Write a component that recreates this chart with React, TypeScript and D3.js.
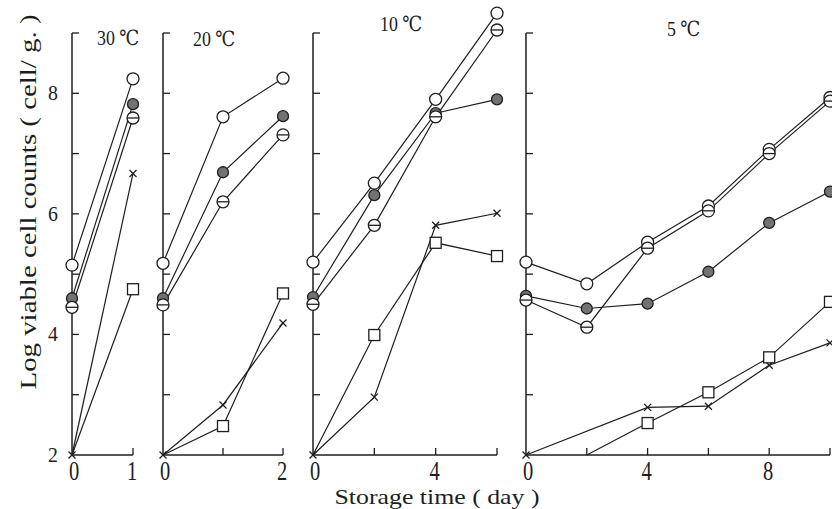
import React from 'react';
import * as d3 from 'd3';

// ---- data ----
const temps = ['30 ℃', '20 ℃', '10 ℃', '5 ℃'];
const days30 = [0, 1];
const days20 = [0, 1, 2];
const days10 = [0, 2, 4, 6];
const days5 = [0, 2, 4, 6, 8, 10];

const open30 = [5.15, 8.24];
const filled30 = [4.6, 7.82];
const barred30 = [4.45, 7.59];
const cross30 = [2, 6.67];
const square30 = [2, 4.75];

const open20 = [5.18, 7.61, 8.25];
const filled20 = [4.6, 6.69, 7.62];
const barred20 = [4.49, 6.2, 7.31];
const cross20 = [2, 2.83, 4.19];
const square20 = [2, 2.48, 4.68];

const open10 = [5.2, 6.51, 7.9, 9.33];
const filled10 = [4.62, 6.31, 7.67, 7.9];
const barred10 = [4.5, 5.81, 7.61, 9.05];
const cross10 = [2, 2.96, 5.81, 6.01];
const square10 = [2, 3.99, 5.52, 5.3];

const open5 = [5.2, 4.84, 5.53, 6.13, 7.07, 7.93];
const filled5 = [4.64, 4.43, 4.51, 5.04, 5.85, 6.37];
const barred5 = [4.57, 4.12, 5.43, 6.05, 7.0, 7.87];
const cross5 = [2, null, 2.79, 2.81, 3.49, 3.86];
const square5 = [null, 2, 2.53, 3.04, 3.62, 4.54];

const xTickLabels30 = [0, 1];
const xTickLabels20 = [0, 2];
const xTickLabels10 = [0, 4];
const xTickLabels5 = [0, 4, 8];

const yTicks = [3, 4, 5, 6, 7, 8, 9];
const yTickLabels = [2, 4, 6, 8];

const yTitle = 'Log viable cell counts ( cell/ g. )';
const xTitle = 'Storage time ( day )';

// ---- layout ----
const W = 832, H = 509;
const panelRanges: [number, number][] = [[72, 133], [163, 283], [313, 497], [526, 830]];
const titlePos: [number, number][] = [[97, 45], [193, 46], [380, 31], [667, 36]];

const panels = [
  { days: days30, labels: xTickLabels30, series: [open30, filled30, barred30, cross30, square30] },
  { days: days20, labels: xTickLabels20, series: [open20, filled20, barred20, cross20, square20] },
  { days: days10, labels: xTickLabels10, series: [open10, filled10, barred10, cross10, square10] },
  { days: days5, labels: xTickLabels5, series: [open5, filled5, barred5, cross5, square5] },
];
const kinds = ['open', 'filled', 'barred', 'cross', 'square'];

const y = d3.scaleLinear().domain([2, 9]).range([455, 33]);
const INK = '#1e1e1e';
const SERIF = '"Liberation Serif", "DejaVu Serif", "Noto Sans CJK JP", serif';

function Marker({ kind, cx, cy }: { kind: string; cx: number; cy: number }) {
  const r = 6;
  if (kind === 'open') return <circle cx={cx} cy={cy} r={r} fill="#fff" stroke={INK} strokeWidth={1.3} />;
  if (kind === 'filled') return <circle cx={cx} cy={cy} r={r - 0.5} fill="#727272" stroke={INK} strokeWidth={1.3} />;
  if (kind === 'barred')
    return (
      <g>
        <circle cx={cx} cy={cy} r={r} fill="#fff" stroke={INK} strokeWidth={1.3} />
        <line x1={cx - r} x2={cx + r} y1={cy} y2={cy} stroke={INK} strokeWidth={1.3} />
      </g>
    );
  if (kind === 'cross') {
    const s = 3.5;
    return (
      <g stroke={INK} strokeWidth={1.3}>
        <line x1={cx - s} x2={cx + s} y1={cy - s} y2={cy + s} />
        <line x1={cx - s} x2={cx + s} y1={cy + s} y2={cy - s} />
      </g>
    );
  }
  return <rect x={cx - 5.5} y={cy - 5.5} width={11} height={11} fill="#fff" stroke={INK} strokeWidth={1.3} />;
}

function NarrowText({ x, yy, sx, size, anchor, children }: any) {
  return (
    <text
      transform={`translate(${x},${yy}) scale(${sx},1)`}
      fontSize={size}
      fontFamily={SERIF}
      textAnchor={anchor}
      fill={INK}
    >
      {children}
    </text>
  );
}

export default function App() {
  return (
    <svg width={W} height={H} style={{ position: 'absolute', left: 0, top: 0, background: '#fff' }}>
      {panels.map((p, pi) => {
        const [x0, x1] = panelRanges[pi];
        const maxDay = p.days[p.days.length - 1];
        const x = d3.scaleLinear().domain([0, maxDay]).range([x0, x1]);
        const line = d3
          .line<[number, number]>()
          .x((d) => x(d[0]))
          .y((d) => y(d[1]));
        return (
          <g key={pi}>
            {/* axes */}
            <line x1={x0} x2={x0} y1={y(9)} y2={y(2)} stroke={INK} strokeWidth={1.5} />
            <line x1={x0} x2={x1} y1={y(2)} y2={y(2)} stroke={INK} strokeWidth={1.5} />
            {yTicks.map((t) => (
              <line key={t} x1={x0} x2={x0 + 7} y1={y(t)} y2={y(t)} stroke={INK} strokeWidth={1.3} />
            ))}
            {p.days.filter((d) => d > 0).map((d) => (
              <line key={d} x1={x(d)} x2={x(d)} y1={y(2)} y2={y(2) - 7} stroke={INK} strokeWidth={1.3} />
            ))}
            {p.labels.map((d) => (
              <NarrowText key={d} x={x(d) + (d === 0 ? 2 : -1)} yy={480} sx={0.76} size={27} anchor="middle">
                {d}
              </NarrowText>
            ))}
            <NarrowText x={titlePos[pi][0]} yy={titlePos[pi][1]} sx={0.85} size={21} anchor="start">
              {temps[pi]}
            </NarrowText>
            {/* series lines */}
            {p.series.map((vals, si) => {
              const pts: [number, number][] = [];
              vals.forEach((v, i) => {
                if (v !== null && v !== undefined) pts.push([p.days[i], v as number]);
              });
              return <path key={si} d={line(pts) || ''} fill="none" stroke={INK} strokeWidth={1.2} />;
            })}
            {/* markers */}
            {p.series.map((vals, si) =>
              vals.map((v, i) => {
                if (v === null || v === undefined) return null;
                if (kinds[si] === 'square' && (v as number) <= 2) return null;
                return <Marker key={`${si}-${i}`} kind={kinds[si]} cx={x(p.days[i])} cy={y(v as number)} />;
              })
            )}
          </g>
        );
      })}
      {yTickLabels.map((t) => (
        <NarrowText key={t} x={58} yy={y(t) + 7} sx={0.9} size={22} anchor="end">
          {t}
        </NarrowText>
      ))}
      <text
        transform="translate(36,202) rotate(-90)"
        fontSize={23}
        fontFamily={SERIF}
        textAnchor="middle"
        fill={INK}
        textLength={375}
        lengthAdjust="spacingAndGlyphs"
      >
        {yTitle}
      </text>
      <text
        x={437}
        y={504}
        fontSize={21}
        fontFamily={SERIF}
        textAnchor="middle"
        fill={INK}
        textLength={205}
        lengthAdjust="spacingAndGlyphs"
      >
        {xTitle}
      </text>
    </svg>
  );
}
